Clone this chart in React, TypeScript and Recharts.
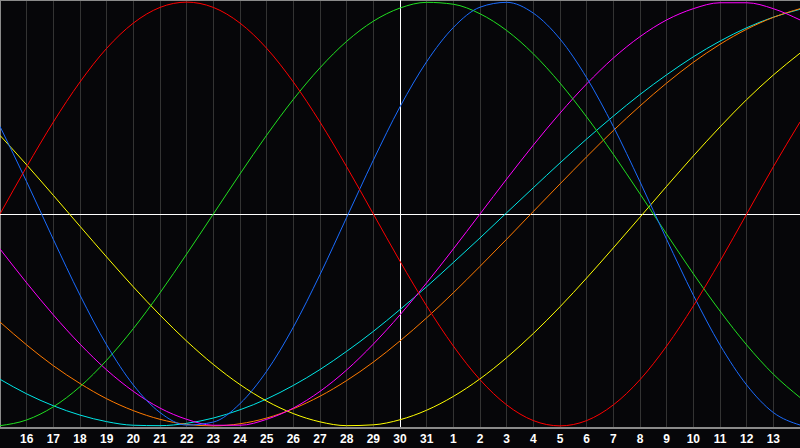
import React from "react";
import {
  LineChart,
  Line,
  XAxis,
  YAxis,
  CartesianGrid,
  ReferenceLine,
} from "recharts";

// days shown, x = 0..30 (day 15 of one month to day 14 of the next)
const dayIndex = [
  0, 1, 2, 3, 4, 5, 6, 7, 8, 9, 10, 11, 12, 13, 14, 15, 16, 17, 18, 19, 20,
  21, 22, 23, 24, 25, 26, 27, 28, 29, 30,
];
const dayLabels = [
  "16", "17", "18", "19", "20", "21", "22", "23", "24", "25", "26", "27",
  "28", "29", "30", "31", "1", "2", "3", "4", "5", "6", "7", "8", "9", "10",
  "11", "12", "13",
];
const TODAY = 15;

const physical = [
  41.3, 15.2, -12.0, -38.3, -61.8, -80.7, -93.7, -99.6, -98.2, -89.5, -74.2,
  -53.4, -28.6, -1.6, 25.4, 50.6, 71.9, 88.0, 97.6, 99.9, 94.8, 82.6, 64.3,
  41.3, 15.2, -12.0, -38.3, -61.8, -80.7, -93.7, -99.6,
];
const emotional = [
  0, 22.3, 43.4, 62.3, 78.2, 90.1, 97.5, 100, 97.5, 90.1, 78.2, 62.3, 43.4,
  22.3, 0, -22.3, -43.4, -62.3, -78.2, -90.1, -97.5, -100, -97.5, -90.1,
  -78.2, -62.3, -43.4, -22.3, 0, 22.3, 43.4,
];
const intellectual = [
  -99.9, -97.2, -91.0, -81.5, -69.0, -54.1, -37.2, -18.9, 0, 18.9, 37.2, 54.1,
  69.0, 81.5, 91.0, 97.2, 99.9, 99.0, 94.5, 86.6, 75.6, 61.8, 45.8, 28.2, 9.5,
  -9.5, -28.2, -45.8, -61.8, -75.6, -86.6,
];
const intuitive = [
  -16.5, -32.5, -47.6, -61.4, -73.6, -83.7, -91.6, -96.9, -99.7, -99.7, -96.9,
  -91.6, -83.7, -73.6, -61.4, -47.6, -32.5, -16.5, 0, 16.5, 32.5, 47.6, 61.4,
  73.6, 83.7, 91.6, 96.9, 99.7, 99.7, 96.9, 91.6,
];
const aesthetic = [
  37.1, 23.2, 8.8, -5.8, -20.3, -34.4, -47.7, -60.0, -71.0, -80.5, -88.3,
  -94.2, -98.1, -99.9, -99.5, -97.1, -92.6, -86.1, -77.8, -67.8, -56.4, -43.8,
  -30.2, -16.0, -1.5, 13.1, 27.4, 41.1, 54.0, 65.6, 75.9,
];
const awareness = [
  -51.0, -61.8, -71.6, -80.0, -87.2, -92.8, -96.9, -99.3, -100, -99.0, -96.3,
  -91.9, -86.0, -78.6, -69.9, -59.9, -49.0, -37.2, -24.7, -11.9, 1.2, 14.2,
  27.0, 39.4, 51.0, 61.8, 71.6, 80.1, 87.2, 92.8, 96.9,
];
const spiritual = [
  -78.0, -84.9, -90.5, -94.9, -98.0, -99.7, -99.9, -98.8, -96.3, -92.4, -87.3,
  -80.9, -73.4, -64.8, -55.4, -45.1, -34.3, -22.9, -11.3, 0.6, 12.4, 24.1,
  35.4, 46.2, 56.4, 65.7, 74.2, 81.6, 87.9, 92.9, 96.6,
];

const data = dayIndex.map((d, i) => ({
  d,
  physical: physical[i],
  emotional: emotional[i],
  intellectual: intellectual[i],
  intuitive: intuitive[i],
  aesthetic: aesthetic[i],
  awareness: awareness[i],
  spiritual: spiritual[i],
}));

const series = [
  { key: "spiritual", color: "#00e6e6" },
  { key: "awareness", color: "#ff7a00" },
  { key: "aesthetic", color: "#ffff00" },
  { key: "intuitive", color: "#ff00ff" },
  { key: "intellectual", color: "#20e020" },
  { key: "physical", color: "#1a6cff" },
  { key: "emotional", color: "#ff0000" },
];

const tickValues = dayLabels.map((_, i) => i + 1);

export default function App() {
  return (
    <div
      style={{
        position: "absolute",
        left: 0,
        top: 0,
        width: 800,
        height: 448,
        backgroundColor: "#060609",
      }}
    >
      <LineChart
        width={800}
        height={448}
        data={data}
        margin={{ top: 0, right: 0, left: 0, bottom: 0 }}
      >
        <CartesianGrid
          horizontal={false}
          stroke="#333333"
          strokeDasharray=""
          shapeRendering="crispEdges"
        />
        <XAxis
          dataKey="d"
          type="number"
          domain={[0, 30]}
          ticks={tickValues}
          tickFormatter={(v) => dayLabels[v - 1]}
          interval={0}
          height={20}
          tickLine={false}
          tickSize={5}
          tickMargin={1}
          axisLine={{ stroke: "#8a8a8a", strokeWidth: 2 }}
          tick={{
            fill: "#ffffff",
            fontSize: 12,
            fontWeight: 700,
            fontFamily: "Liberation Sans, Arial, sans-serif",
          }}
        />
        <YAxis hide domain={[-101, 101]} />
        <ReferenceLine x={0} stroke="#8a8a8a" strokeWidth={2} />
        <ReferenceLine y={101} stroke="#8a8a8a" strokeWidth={2} />
        <ReferenceLine
          y={0}
          stroke="#ffffff"
          strokeWidth={1}
          shapeRendering="crispEdges"
        />
        <ReferenceLine
          x={TODAY}
          stroke="#ffffff"
          strokeWidth={1}
          shapeRendering="crispEdges"
        />
        {series.map((s) => (
          <Line
            key={s.key}
            type="monotone"
            dataKey={s.key}
            stroke={s.color}
            strokeWidth={1}
            dot={false}
            activeDot={false}
            isAnimationActive={false}
          />
        ))}
      </LineChart>
    </div>
  );
}
